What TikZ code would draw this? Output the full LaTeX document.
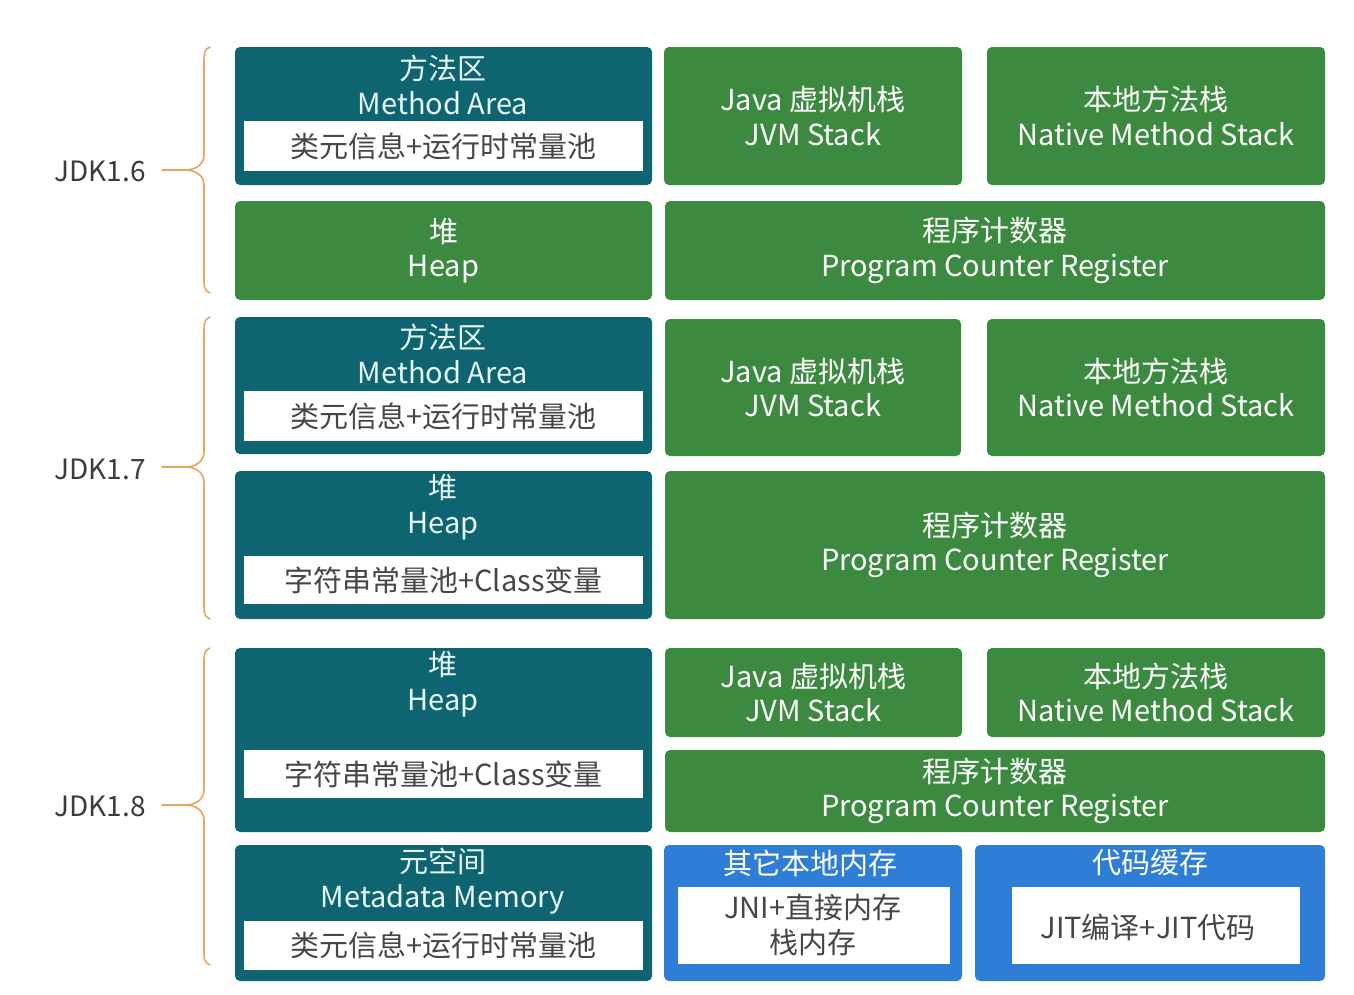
\documentclass[tikz,border=0pt]{standalone}
\usepackage{fontspec}
\setmainfont{Noto Sans CJK SC}
\definecolor{tealc}{RGB}{14,100,112}
\definecolor{greenc}{RGB}{60,138,64}
\definecolor{bluec}{RGB}{46,125,214}
\definecolor{bracec}{RGB}{233,165,90}
\definecolor{graytext}{RGB}{70,70,70}
\definecolor{lighttext}{RGB}{232,248,248}
\definecolor{labeltext}{RGB}{60,60,60}
\tikzset{
  area/.style={rounded corners=5pt, inner sep=0pt, outer sep=0pt, anchor=north west},
  tealbox/.style={area, fill=tealc},
  greenbox/.style={area, fill=greenc},
  bluebox/.style={area, fill=bluec},
  whitebox/.style={inner sep=0pt, outer sep=0pt, anchor=north west, fill=white},
  ttl/.style={align=center, text=lighttext, font=\fontsize{29}{34.5}\selectfont, inner sep=0pt},
  inner/.style={align=center, text=graytext, font=\fontsize{29}{34.5}\selectfont, inner sep=0pt},
  jdk/.style={text=labeltext, font=\fontsize{28}{34}\selectfont, inner sep=0pt},
  brace/.style={draw=bracec, line width=1.6pt, line cap=round}
}
\newcommand{\bracepath}[4]{% top, bottom, tip y, name
  \coordinate (#4t) at (210,#1);
  \coordinate (#4b) at (210,#2);
  \coordinate (#4m) at (185,#3);
  \coordinate (#4e) at (162,#3);
  \draw[brace] (#4t) .. controls (204,#1+2) and (204,#1+7) .. (204,#1+15) -- (204,#3-15)
     .. controls (204,#3-5) and (195,#3) .. (#4m)
     .. controls (195,#3) and (204,#3+5) .. (204,#3+15) -- (204,#2-15)
     .. controls (204,#2-7) and (204,#2-2) .. (#4b);
  \draw[brace] (#4e) -- (#4m);
}
\begin{document}
\begin{tikzpicture}[x=1pt,y=-1pt]
\useasboundingbox[fill=white] (0,0) rectangle (1354,994);

% ---------- JDK 1.6 ----------
\node[tealbox, minimum width=417pt, minimum height=138pt] (ma6) at (235,47) {};
\node[whitebox, minimum width=399pt, minimum height=50pt] (ma6w) at (244,121) {};
\node[ttl] (ma6t) at (443,85) {方法区\\Method Area};
\node[inner] (ma6i) at (ma6w.center) {类元信息+运行时常量池};
\node[greenbox, minimum width=298pt, minimum height=138pt] (jvm6) at (664,47) {};
\node[ttl, text=white] (jvm6t) at (jvm6.center) {Java 虚拟机栈\\JVM Stack};
\node[greenbox, minimum width=338pt, minimum height=138pt] (nat6) at (987,47) {};
\node[ttl, text=white] (nat6t) at (nat6.center) {本地方法栈\\Native Method Stack};
\node[greenbox, minimum width=417pt, minimum height=99pt] (heap6) at (235,201) {};
\node[ttl, text=white] (heap6t) at (heap6.center) {堆\\Heap};
\node[greenbox, minimum width=660pt, minimum height=99pt] (pc6) at (665,201) {};
\node[ttl, text=white] (pc6t) at (pc6.center) {程序计数器\\Program Counter Register};
\bracepath{47}{293}{170}{b6}
\node[jdk, anchor=east] (jdk6) at (146,171) {JDK1.6};

% ---------- JDK 1.7 ----------
\node[tealbox, minimum width=417pt, minimum height=137pt] (ma7) at (235,317) {};
\node[whitebox, minimum width=399pt, minimum height=50pt] (ma7w) at (244,391) {};
\node[ttl] (ma7t) at (443,354) {方法区\\Method Area};
\node[inner] (ma7i) at (ma7w.center) {类元信息+运行时常量池};
\node[greenbox, minimum width=296pt, minimum height=137pt] (jvm7) at (665,319) {};
\node[ttl, text=white] (jvm7t) at (jvm7.center) {Java 虚拟机栈\\JVM Stack};
\node[greenbox, minimum width=338pt, minimum height=137pt] (nat7) at (987,319) {};
\node[ttl, text=white] (nat7t) at (nat7.center) {本地方法栈\\Native Method Stack};
\node[tealbox, minimum width=417pt, minimum height=148pt] (heap7) at (235,471) {};
\node[whitebox, minimum width=399pt, minimum height=48pt] (heap7w) at (244,556) {};
\node[ttl] (heap7t) at (443,507) {堆\\Heap};
\node[inner] (heap7i) at (heap7w.center) {字符串常量池+Class变量};
\node[greenbox, minimum width=660pt, minimum height=148pt] (pc7) at (665,471) {};
\node[ttl, text=white] (pc7t) at (pc7.center) {程序计数器\\Program Counter Register};
\bracepath{317}{619}{467}{b7}
\node[jdk, anchor=east] (jdk7) at (146,469) {JDK1.7};

% ---------- JDK 1.8 ----------
\node[tealbox, minimum width=417pt, minimum height=184pt] (heap8) at (235,648) {};
\node[whitebox, minimum width=399pt, minimum height=48pt] (heap8w) at (244,750) {};
\node[ttl] (heap8t) at (443,684) {堆\\Heap};
\node[inner] (heap8i) at (heap8w.center) {字符串常量池+Class变量};
\node[greenbox, minimum width=297pt, minimum height=89pt] (jvm8) at (665,648) {};
\node[ttl, text=white] (jvm8t) at (jvm8.center) {Java 虚拟机栈\\JVM Stack};
\node[greenbox, minimum width=338pt, minimum height=89pt] (nat8) at (987,648) {};
\node[ttl, text=white] (nat8t) at (nat8.center) {本地方法栈\\Native Method Stack};
\node[greenbox, minimum width=660pt, minimum height=82pt] (pc8) at (665,750) {};
\node[ttl, text=white] (pc8t) at (pc8.center) {程序计数器\\Program Counter Register};
\node[tealbox, minimum width=417pt, minimum height=136pt] (meta) at (235,845) {};
\node[whitebox, minimum width=399pt, minimum height=49pt] (metaw) at (244,921) {};
\node[ttl] (metat) at (443,881) {元空间\\Metadata Memory};
\node[inner] (metai) at (metaw.center) {类元信息+运行时常量池};
\node[bluebox, minimum width=298pt, minimum height=136pt] (oth) at (664,845) {};
\node[whitebox, minimum width=272pt, minimum height=77pt] (othw) at (678,887) {};
\node[ttl, text=white] (otht) at (810,863) {其它本地内存};
\node[inner] (othi) at (813,925) {JNI+直接内存\\栈内存};
\node[bluebox, minimum width=350pt, minimum height=136pt] (cc) at (975,845) {};
\node[whitebox, minimum width=288pt, minimum height=77pt] (ccw) at (1012,887) {};
\node[ttl, text=white] (cct) at (1150,863) {代码缓存};
\node[inner] (cci) at (1148,927) {JIT编译+JIT代码};
\bracepath{648}{965}{805}{b8}
\node[jdk, anchor=east] (jdk8) at (146,806) {JDK1.8};
\end{tikzpicture}
\end{document}
